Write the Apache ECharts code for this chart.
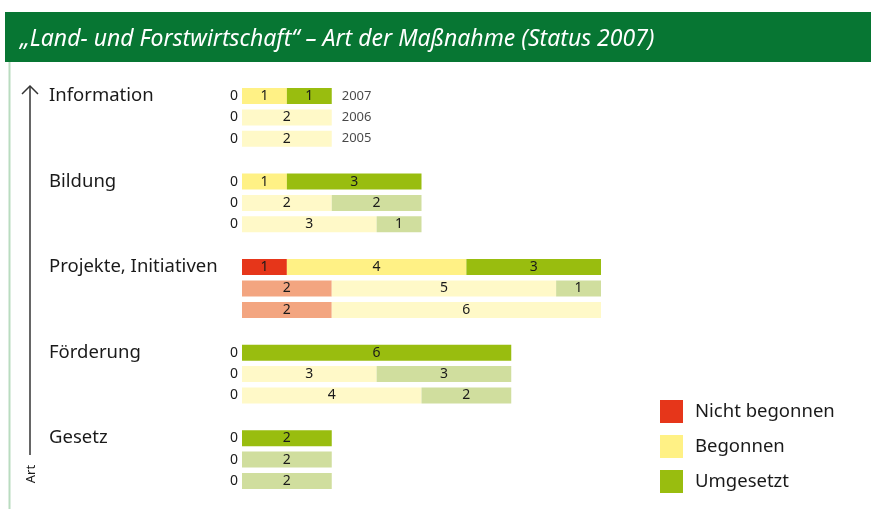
<!DOCTYPE html>
<html>
<head>
<meta charset="utf-8">
<script src="https://cdn.jsdelivr.net/npm/echarts@6/dist/echarts.min.js"></script>
<style>
  html, body { margin: 0; padding: 0; background: #fff; }
  #chart { width: 871px; height: 509px; }
</style>
</head>
<body>
<div id="chart"></div>
<script>
// Kategorien und Jahre
const groups = ["Information", "Bildung", "Projekte, Initiativen", "Förderung", "Gesetz"];
const years = ["2007", "2006", "2005"];

// Werte je Kategorie: [2007, 2006, 2005]
const nichtBegonnen = [[0, 0, 0], [0, 0, 0], [1, 2, 2], [0, 0, 0], [0, 0, 0]];
const begonnen = [[1, 2, 2], [1, 2, 3], [4, 5, 6], [0, 3, 4], [0, 0, 0]];
const umgesetzt = [[1, 0, 0], [3, 2, 1], [3, 1, 0], [6, 3, 2], [2, 2, 2]];

const seriesNames = ["Nicht begonnen", "Begonnen", "Umgesetzt"];
// kräftige Farbe für 2007, blasse Farbe für Vorjahre
const strongColors = ["#e6361a", "#fff185", "#99bd0f"];
const paleColors = ["#f3a580", "#fff9c8", "#d0de9e"];

const chart = echarts.init(document.getElementById("chart"));

// Zeilen der Kategorieachse: 3 Jahre je Gruppe plus Leerzeile
const rows = [];
groups.forEach((g, gi) => {
  years.forEach((y, yi) => rows.push({ group: g, gi, yi }));
  if (gi < groups.length - 1) rows.push(null);
});

const valueSets = [nichtBegonnen, begonnen, umgesetzt];

function buildData(si) {
  return rows.map((r) => {
    if (!r) return "-";
    const v = valueSets[si][r.gi][r.yi];
    const showZero = si === 0 && v === 0;
    return {
      value: v,
      itemStyle: { color: r.yi === 0 ? strongColors[si] : paleColors[si] },
      label: {
        show: v > 0 || showZero,
        position: showZero ? "left" : "inside",
        distance: 4
      }
    };
  });
}

const barSeries = seriesNames.map((name, si) => ({
  name,
  type: "bar",
  stack: "total",
  barWidth: 16,
  color: strongColors[si],
  label: {
    color: "#1a1a1a",
    fontSize: 14,
    fontFamily: "Noto Sans"
  },
  data: buildData(si)
}));

// Jahresangaben rechts neben den Balken der ersten Gruppe
const yearPoints = [];
rows.forEach((r, i) => {
  if (r && r.gi === 0) {
    const total = nichtBegonnen[0][r.yi] + begonnen[0][r.yi] + umgesetzt[0][r.yi];
    yearPoints.push({ value: [total, i], name: years[r.yi] });
  }
});

const options = {
  animation: false,
  grid: { left: 242, right: 270, top: 85.3, bottom: 17.3 },
  xAxis: {
    type: "value",
    min: 0,
    max: 8,
    show: false
  },
  yAxis: {
    type: "category",
    inverse: true,
    data: rows.map((r, i) => (r ? r.group + "|" + r.yi : "gap" + i)),
    axisLine: { show: false },
    axisTick: { show: false },
    splitLine: { show: false },
    axisLabel: {
      align: "left",
      margin: 193,
      color: "#1a1a1a",
      fontSize: 18.5,
      fontFamily: "Noto Sans",
      padding: [4, 0, 0, 0],
      formatter: (v) => {
        const parts = v.split("|");
        return parts.length === 2 && parts[1] === "0" ? parts[0] : "";
      }
    }
  },
  legend: {
    orient: "vertical",
    left: 660,
    top: 400,
    padding: 0,
    itemWidth: 23,
    itemHeight: 23,
    itemGap: 12,
    icon: "rect",
    data: seriesNames,
    textStyle: { fontSize: 18.5, color: "#1a1a1a", fontFamily: "Noto Sans", padding: [0, 0, 0, 7] }
  },
  graphic: [
    { type: "rect", shape: { x: 5, y: 12, width: 866, height: 50 }, style: { fill: "#077633" } },
    { type: "line", shape: { x1: 9.5, y1: 62, x2: 9.5, y2: 509 }, style: { stroke: "#b9dcc0", lineWidth: 2 } },
    {
      type: "text",
      left: 20,
      top: 28,
      style: {
        text: "„Land- und Forstwirtschaft“ – Art der Maßnahme (Status 2007)",
        fill: "#fff",
        font: "italic 23px 'Noto Sans'"
      }
    },
    { type: "line", shape: { x1: 30, y1: 86, x2: 30, y2: 455 }, style: { stroke: "#333", lineWidth: 1.5 } },
    { type: "polyline", shape: { points: [[22, 94], [30, 86], [38, 94]] }, style: { stroke: "#333", lineWidth: 1.5, fill: null } },
    {
      type: "text",
      x: 31,
      y: 474,
      rotation: Math.PI / 2,
      style: { text: "Art", fill: "#1a1a1a", font: "13px 'Noto Sans'", align: "center", verticalAlign: "middle" }
    }
  ],
  series: [
    ...barSeries,
    {
      type: "scatter",
      symbolSize: 0,
      silent: true,
      data: yearPoints,
      label: {
        show: true,
        position: "right",
        distance: 10,
        formatter: "{b}",
        color: "#1a1a1a",
        fontSize: 13,
        fontFamily: "Noto Sans"
      }
    }
  ]
};

chart.setOption(options);
</script>
</body>
</html>
